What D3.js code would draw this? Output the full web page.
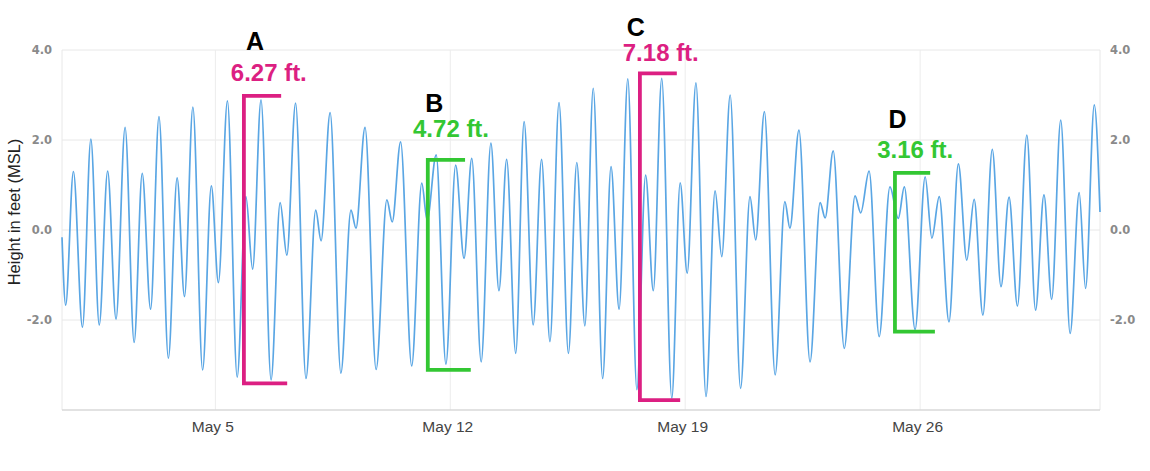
<!DOCTYPE html>
<html lang="en">
<head>
  <meta charset="UTF-8">
  <title>Tide heights, May</title>
  <script src="https://d3js.org/d3.v7.min.js"></script>
  <style>
    body { margin: 0; background: #fff; }
    svg { display: block; }
  </style>
</head>
<body>
  <div id="viz"></div>
  <script>
    // tide highs and lows: day of May (decimal) and height in feet (MSL)
    const tideDays = [
      0.43, 0.54, 0.77, 1.04, 1.29, 1.54, 1.79, 2.04, 2.31, 2.58,
      2.82, 3.07, 3.32, 3.60, 3.86, 4.08, 4.33, 4.62, 4.88, 5.09,
      5.36, 5.65, 5.91, 6.11, 6.36, 6.66, 6.93, 7.13, 7.39, 7.70,
      7.99, 8.15, 8.42, 8.74, 9.04, 9.19, 9.46, 9.79, 10.11, 10.27,
      10.52, 10.85, 11.15, 11.31, 11.58, 11.87, 12.16, 12.41, 12.64, 12.92,
      13.21, 13.45, 13.68, 13.95, 14.20, 14.47, 14.72, 14.97, 15.24, 15.52,
      15.77, 16.01, 16.26, 16.54, 16.79, 17.03, 17.29, 17.56, 17.82, 18.05,
      18.30, 18.60, 18.85, 19.06, 19.32, 19.62, 19.89, 20.09, 20.34, 20.65,
      20.93, 21.10, 21.36, 21.68, 21.97, 22.12, 22.39, 22.72, 23.02, 23.17,
      23.41, 23.74, 24.06, 24.23, 24.48, 24.78, 25.10, 25.35, 25.53, 25.85,
      26.15, 26.35, 26.57, 26.86, 27.14, 27.39, 27.61, 27.87, 28.15, 28.41,
      28.65, 28.90, 29.18, 29.44, 29.69, 29.92, 30.19, 30.47, 30.74, 30.93,
      31.19, 31.36
    ];
    const tideHeights = [
      -0.16, -1.67, 1.30, -2.16, 2.02, -2.11, 1.31, -1.98, 2.28, -2.50,
      1.26, -1.76, 2.52, -2.85, 1.16, -1.48, 2.73, -3.11, 0.98, -1.17,
      2.87, -3.27, 0.74, -0.87, 2.89, -3.33, 0.61, -0.56, 2.82, -3.30,
      0.44, -0.24, 2.61, -3.18, 0.44, 0.04, 2.28, -3.10, 0.67, 0.18,
      1.96, -3.02, 1.04, 0.22, 1.67, -2.98, 1.44, -0.63, 1.59, -2.93,
      1.93, -1.35, 1.57, -2.74, 2.41, -2.11, 1.57, -2.48, 2.83, -2.74,
      1.50, -2.13, 3.15, -3.30, 1.41, -1.76, 3.36, -3.55, 1.22, -1.35,
      3.37, -3.74, 1.05, -0.96, 3.27, -3.70, 0.87, -0.59, 3.00, -3.52,
      0.74, -0.22, 2.63, -3.22, 0.63, 0.04, 2.22, -2.93, 0.61, 0.27,
      1.76, -2.63, 0.76, 0.38, 1.31, -2.37, 0.96, 0.26, 0.96, -2.21,
      1.18, -0.18, 0.74, -2.04, 1.47, -0.67, 0.68, -1.89, 1.79, -1.26,
      0.73, -1.69, 2.11, -1.78, 0.78, -1.54, 2.44, -2.30, 0.83, -1.30,
      2.78, 0.40
    ];

    const yTicks = [-2, 0, 2, 4];
    const xTickDays = [5, 12, 19, 26];

    // range annotations (letter, label, bracket in data units)
    const annLetters = ["A", "B", "C", "D"];
    const annLabels = ["6.27 ft.", "4.72 ft.", "7.18 ft.", "3.16 ft."];
    const annColors = ["#dc1f82", "#33c733", "#dc1f82", "#33c733"];
    const bracketDay = [5.85, 11.33, 17.65, 25.25];
    const bracketTop = [2.98, 1.56, 3.48, 1.27];
    const bracketBottom = [-3.41, -3.11, -3.78, -2.26];
    const topArmEnd = [6.96, 12.44, 18.75, 26.30];
    const bottomArmEnd = [7.14, 12.61, 18.85, 26.44];
    const labelDay = [5.46, 10.89, 17.14, 24.72];
    const labelHeight = [3.32, 2.07, 3.76, 1.59];
    const letterDay = [6.18, 11.52, 17.53, 25.33];
    const letterHeight = [4.00, 2.63, 4.31, 2.26];

    // day of May -> Date (day 1.0 = May 1, 00:00)
    const may1 = new Date(2019, 4, 1).getTime();
    const toDate = d => new Date(may1 + (d - 1) * 86400000);

    const svgWidth = 1150, svgHeight = 471;
    const margin = { top: 50, right: 50, bottom: 61, left: 62 };
    const width = svgWidth - margin.left - margin.right;
    const height = svgHeight - margin.top - margin.bottom;

    const svg = d3.select("#viz").append("svg")
      .attr("width", svgWidth)
      .attr("height", svgHeight);

    const g = svg.append("g")
      .attr("transform", `translate(${margin.left},${margin.top})`);

    const x = d3.scaleTime()
      .domain([toDate(tideDays[0]), toDate(tideDays[tideDays.length - 1])])
      .range([0, width]);

    const y = d3.scaleLinear()
      .domain([-4, 4])
      .range([height, 0]);

    // Grid
    g.append("g")
      .selectAll("line.hgrid")
      .data(yTicks)
      .enter()
      .append("line")
      .attr("x1", 0).attr("x2", width)
      .attr("y1", d => y(d)).attr("y2", d => y(d))
      .attr("stroke", "#e8e8e8");

    g.append("g")
      .selectAll("line.vgrid")
      .data(xTickDays)
      .enter()
      .append("line")
      .attr("x1", d => x(toDate(d))).attr("x2", d => x(toDate(d)))
      .attr("y1", 0).attr("y2", height)
      .attr("stroke", "#ececec");

    // frame
    g.append("line").attr("x1", 0).attr("x2", 0).attr("y1", 0).attr("y2", height).attr("stroke", "#e8e8e8");
    g.append("line").attr("x1", width).attr("x2", width).attr("y1", 0).attr("y2", height).attr("stroke", "#e8e8e8");
    g.append("line").attr("x1", 0).attr("x2", width).attr("y1", height).attr("y2", height).attr("stroke", "#d8d8d8").attr("stroke-width", 1.5);

    // Axes
    const xAxis = g.append("g")
      .attr("transform", `translate(0,${height})`)
      .call(d3.axisBottom(x)
        .tickValues(xTickDays.map(toDate))
        .tickFormat(d3.timeFormat("%b %-d"))
        .tickSize(0)
        .tickPadding(11));
    xAxis.select(".domain").remove();
    xAxis.selectAll("text")
      .attr("dx", -3)
      .attr("font-family", "Liberation Sans, Arial, sans-serif")
      .attr("font-size", "15.5px")
      .attr("fill", "#444");

    const fmt = d => d.toFixed(1);
    const yLeft = g.append("g")
      .call(d3.axisLeft(y).tickValues(yTicks).tickFormat(fmt).tickSize(0).tickPadding(10));
    const yRight = g.append("g")
      .attr("transform", `translate(${width},0)`)
      .call(d3.axisRight(y).tickValues(yTicks).tickFormat(fmt).tickSize(0).tickPadding(10));
    [yLeft, yRight].forEach(a => {
      a.select(".domain").remove();
      a.selectAll("text")
        .attr("font-family", "DejaVu Sans, sans-serif")
        .attr("font-size", "11.5px")
        .attr("font-weight", "bold")
        .attr("fill", "#8a8a8a");
    });

    // Y-Axis Label
    svg.append("text")
      .attr("transform", "rotate(-90)")
      .attr("x", -212)
      .attr("y", 20)
      .attr("text-anchor", "middle")
      .attr("font-family", "Liberation Sans, Arial, sans-serif")
      .attr("font-size", "16.5px")
      .attr("fill", "#222")
      .text("Height in feet (MSL)");

    // Tide line
    const line = d3.line()
      .x((d, i) => x(toDate(tideDays[i])))
      .y(d => y(d))
      .curve(d3.curveMonotoneX);

    g.append("path")
      .datum(tideHeights)
      .attr("fill", "none")
      .attr("stroke", "#5aa6e4")
      .attr("stroke-width", 1.7)
      .attr("d", line);

    // Brackets
    const bracket = g.append("g");
    annLetters.forEach((letter, i) => {
      const bx = x(toDate(bracketDay[i]));
      const pts = [
        [x(toDate(topArmEnd[i])), y(bracketTop[i])],
        [bx, y(bracketTop[i])],
        [bx, y(bracketBottom[i])],
        [x(toDate(bottomArmEnd[i])), y(bracketBottom[i])]
      ];
      bracket.append("path")
        .attr("d", d3.line()(pts))
        .attr("fill", "none")
        .attr("stroke", annColors[i])
        .attr("stroke-width", 3.8);

      bracket.append("text")
        .attr("x", x(toDate(labelDay[i])))
        .attr("y", y(labelHeight[i]))
        .attr("font-family", "Liberation Sans, Arial, sans-serif")
        .attr("font-size", "23px")
        .attr("font-weight", "bold")
        .attr("fill", annColors[i])
        .attr("textLength", 76)
        .attr("lengthAdjust", "spacingAndGlyphs")
        .text(annLabels[i]);

      bracket.append("text")
        .attr("x", x(toDate(letterDay[i])))
        .attr("y", y(letterHeight[i]))
        .attr("text-anchor", "middle")
        .attr("font-family", "Liberation Sans, Arial, sans-serif")
        .attr("font-size", "25px")
        .attr("font-weight", "bold")
        .attr("fill", "#000")
        .text(letter);
    });
  </script>
</body>
</html>
